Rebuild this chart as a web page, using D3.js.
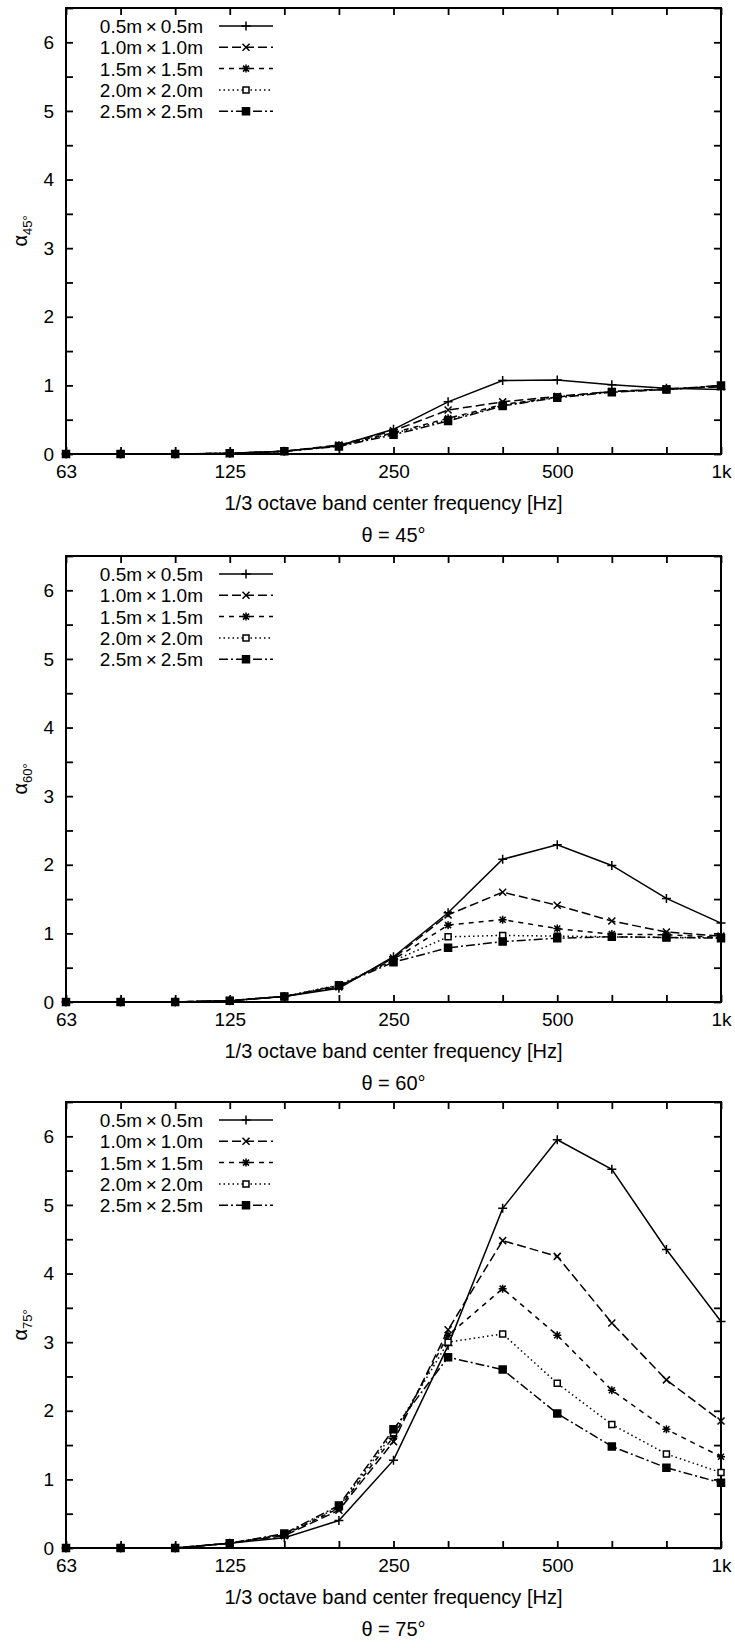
<!DOCTYPE html>
<html>
<head>
<meta charset="utf-8">
<script src="https://cdn.jsdelivr.net/npm/d3@7"></script>
<style>
  body { margin: 0; background: #fff; }
  text { font-family: "Liberation Sans", Arial, sans-serif; fill: #000; }
</style>
</head>
<body>
<div id="chart"></div>
<script>
// 1/3 octave band centres and the labelled ones
var freqs = ["63", "80", "100", "125", "160", "200", "250", "315", "400", "500", "630", "800", "1k"];
var freqLabels = ["63", "125", "250", "500", "1k"];
var yTicks = [0, 1, 2, 3, 4, 5, 6];
var sizes = ["0.5m\u2009\u00d7\u20090.5m", "1.0m\u2009\u00d7\u20091.0m", "1.5m\u2009\u00d7\u20091.5m",
             "2.0m\u2009\u00d7\u20092.0m", "2.5m\u2009\u00d7\u20092.5m"];

// absorption coefficient, one row per panel size
var alpha45 = [
  [0, 0, 0, 0.01, 0.04, 0.12, 0.36, 0.76, 1.07, 1.08, 1.01, 0.96, 0.94],
  [0, 0, 0, 0.01, 0.04, 0.13, 0.34, 0.64, 0.76, 0.84, 0.91, 0.95, 0.98],
  [0, 0, 0, 0.01, 0.04, 0.12, 0.31, 0.52, 0.72, 0.83, 0.91, 0.94, 0.99],
  [0, 0, 0, 0.01, 0.04, 0.12, 0.30, 0.50, 0.71, 0.83, 0.91, 0.94, 0.99],
  [0, 0, 0, 0.01, 0.04, 0.11, 0.28, 0.48, 0.70, 0.82, 0.90, 0.94, 1.00]
];
var alpha60 = [
  [0, 0, 0, 0.02, 0.08, 0.20, 0.66, 1.30, 2.08, 2.29, 1.99, 1.51, 1.15],
  [0, 0, 0, 0.02, 0.08, 0.22, 0.64, 1.27, 1.60, 1.41, 1.18, 1.02, 0.96],
  [0, 0, 0, 0.02, 0.08, 0.23, 0.62, 1.12, 1.20, 1.07, 0.99, 0.98, 0.94],
  [0, 0, 0, 0.02, 0.08, 0.25, 0.60, 0.95, 0.97, 0.96, 0.95, 0.94, 0.94],
  [0, 0, 0, 0.02, 0.08, 0.24, 0.58, 0.79, 0.88, 0.93, 0.95, 0.94, 0.93]
];
var alpha75 = [
  [0, 0, 0, 0.07, 0.15, 0.40, 1.28, 2.95, 4.95, 5.95, 5.52, 4.35, 3.30],
  [0, 0, 0, 0.07, 0.18, 0.55, 1.55, 3.18, 4.48, 4.25, 3.28, 2.45, 1.85],
  [0, 0, 0, 0.07, 0.19, 0.58, 1.62, 3.10, 3.78, 3.10, 2.30, 1.73, 1.33],
  [0, 0, 0, 0.07, 0.20, 0.60, 1.68, 3.00, 3.12, 2.40, 1.80, 1.37, 1.10],
  [0, 0, 0, 0.07, 0.21, 0.62, 1.73, 2.78, 2.60, 1.96, 1.48, 1.17, 0.95]
];
var angles = ["45", "60", "75"];

var W = 735, H = 1648;
var left = 66, right = 721, plotH = 446;
var tops = [8, 556, 1102];

var dashes = [null, "9,4", "5,5", "1.5,3", "9,3,2,3"];
var markers = [
  "M-4.5,0H4.5M0,-4.5V4.5",
  "M-3.5,-3.5L3.5,3.5M-3.5,3.5L3.5,-3.5",
  "M-4,0H4M0,-4V4M-3,-3L3,3M-3,3L3,-3",
  "M-3,-3H3V3H-3Z",
  "M-3.5,-3.5H3.5V3.5H-3.5Z"
];
var markerFill = ["none", "none", "none", "#fff", "#000"];

var svg = d3.select("#chart").append("svg")
  .attr("width", W)
  .attr("height", H);

var x = d3.scalePoint().domain(freqs).range([left, right]);

var drawPanel = function(data, angle, top) {
  var bottom = top + plotH;
  var y = d3.scaleLinear().domain([0, 6.5]).range([bottom, top]);
  var g = svg.append("g");

  var halfTicks = d3.range(0, 6.51, 0.5);
  var fmtX = function(d) { return freqLabels.indexOf(d) >= 0 ? d : ""; };
  var fmtY = function(d) { return yTicks.indexOf(d) >= 0 ? d : ""; };

  var axes = [
    g.append("g").attr("transform", "translate(0," + bottom + ")")
      .call(d3.axisBottom(x).tickFormat(fmtX).tickSizeInner(-7).tickSizeOuter(0).tickPadding(11)),
    g.append("g").attr("transform", "translate(0," + top + ")")
      .call(d3.axisTop(x).tickFormat("").tickSizeInner(-7).tickSizeOuter(0)),
    g.append("g").attr("transform", "translate(" + left + ",0)")
      .call(d3.axisLeft(y).tickValues(halfTicks).tickFormat(fmtY).tickSizeInner(-7).tickSizeOuter(0).tickPadding(12)),
    g.append("g").attr("transform", "translate(" + right + ",0)")
      .call(d3.axisRight(y).tickValues(halfTicks).tickFormat("").tickSizeInner(-7).tickSizeOuter(0))
  ];
  axes.forEach(function(a) {
    a.select(".domain").remove();
    a.selectAll(".tick line").attr("stroke", "#000").attr("stroke-width", 1.8);
    a.selectAll(".tick text").attr("font-size", 19).attr("font-family", null);
  });

  g.append("rect")
    .attr("x", left).attr("y", top)
    .attr("width", right - left).attr("height", plotH)
    .attr("fill", "none").attr("stroke", "#000").attr("stroke-width", 2);

  var line = d3.line()
    .x(function(d, i) { return x(freqs[i]); })
    .y(function(d) { return y(d); });

  data.forEach(function(series, s) {
    g.append("path")
      .datum(series)
      .attr("d", line)
      .attr("fill", "none")
      .attr("stroke", "#000")
      .attr("stroke-width", 1.5)
      .attr("stroke-dasharray", dashes[s]);
    g.selectAll(null).data(series).enter().append("path")
      .attr("transform", function(d, i) { return "translate(" + x(freqs[i]) + "," + y(d) + ")"; })
      .attr("d", markers[s])
      .attr("fill", markerFill[s])
      .attr("stroke", "#000")
      .attr("stroke-width", 1.5);
  });

  // key in the upper left corner
  sizes.forEach(function(name, s) {
    var ly = top + 18 + s * 21.3;
    g.append("text")
      .attr("x", 203).attr("y", ly + 7)
      .attr("text-anchor", "end")
      .attr("font-size", 19)
      .text(name);
    g.append("line")
      .attr("x1", 219).attr("x2", 273)
      .attr("y1", ly).attr("y2", ly)
      .attr("stroke", "#000").attr("stroke-width", 1.5)
      .attr("stroke-dasharray", dashes[s]);
    g.append("path")
      .attr("transform", "translate(246," + ly + ")")
      .attr("d", markers[s])
      .attr("fill", markerFill[s])
      .attr("stroke", "#000").attr("stroke-width", 1.5);
  });

  // y label alpha with subscript angle
  var yl = g.append("text")
    .attr("transform", "translate(27," + (top + plotH / 2) + ") rotate(-90)")
    .attr("text-anchor", "middle")
    .attr("font-size", 20);
  yl.append("tspan").text("\u03b1");
  yl.append("tspan").attr("font-size", 13).attr("dy", 5).text(angle + "\u00b0");

  g.append("text")
    .attr("x", (left + right) / 2).attr("y", bottom + 56)
    .attr("text-anchor", "middle")
    .attr("font-size", 20)
    .text("1/3 octave band center frequency [Hz]");

  g.append("text")
    .attr("x", (left + right) / 2).attr("y", bottom + 88)
    .attr("text-anchor", "middle")
    .attr("font-size", 20)
    .text("\u03b8 = " + angle + "\u00b0");
};

drawPanel(alpha45, angles[0], tops[0]);
drawPanel(alpha60, angles[1], tops[1]);
drawPanel(alpha75, angles[2], tops[2]);
</script>
</body>
</html>
